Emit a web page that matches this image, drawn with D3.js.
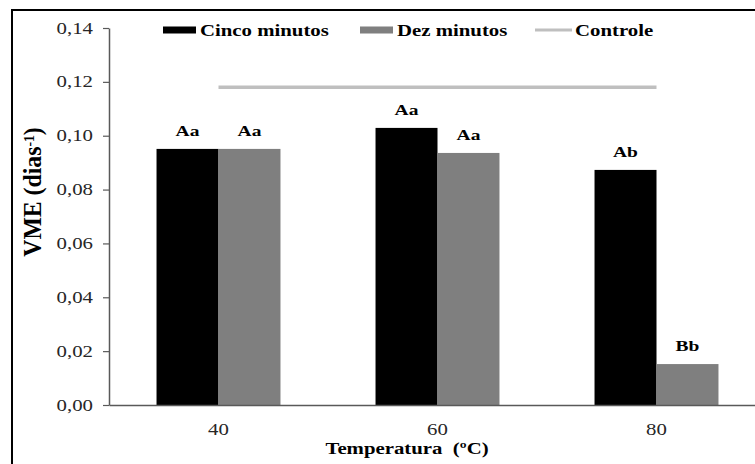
<!DOCTYPE html>
<meta charset="utf-8">
<style>
body { margin: 0; background: #fff; }
text { font-family: "Liberation Serif", "Times New Roman", "DejaVu Serif", serif; fill: #000; }
.tick-label { font-size: 16px; fill: #262626; }
.bold { font-weight: bold; }
</style>
<body>
<svg width="755" height="464"></svg>
<script src="https://d3js.org/d3.v7.min.js"></script>
<script>
// data
var temps = ["40", "60", "80"];
var series = ["Cinco minutos", "Dez minutos"];
var cinco = [0.0951, 0.1029, 0.0873];
var dez = [0.0951, 0.0936, 0.0152];
var controle = 0.118;
var letrasCinco = ["Aa", "Aa", "Ab"];
var letrasDez = ["Aa", "Aa", "Bb"];
var yTicks = [0, 0.02, 0.04, 0.06, 0.08, 0.10, 0.12, 0.14];

var colors = {"Cinco minutos": "#000000", "Dez minutos": "#7f7f7f", "Controle": "#bfbfbf"};
var K = 1.3; // text in the source is stretched sideways

var svg = d3.select("svg");

// outer frame (clipped by the picture at right/bottom)
svg.append("rect")
    .attr("x", 12).attr("y", 10)
    .attr("width", 800).attr("height", 500)
    .attr("fill", "none").attr("stroke", "#000").attr("stroke-width", 2);

var x0 = d3.scaleBand().domain(temps).range([109, 766])
    .paddingInner(0.434).paddingOuter(0.217);
var x1 = d3.scaleBand().domain(series).range([0, x0.bandwidth()]);
var y = d3.scaleLinear().domain([0, 0.14]).range([405, 28]);

function stretched(parent, px, py, str, cls, anchor) {
  return parent.append("text")
      .attr("class", cls)
      .attr("text-anchor", anchor || "middle")
      .attr("transform", "translate(" + px + "," + py + ") scale(" + K + ",1)")
      .text(str);
}

// bars
var rows = temps.map(function(t, i) {
  return [
    {t: t, s: series[0], v: cinco[i], l: letrasCinco[i]},
    {t: t, s: series[1], v: dez[i], l: letrasDez[i]}
  ];
});
var flat = [].concat.apply([], rows);

svg.selectAll(".bar").data(flat).enter().append("rect")
    .attr("class", "bar")
    .attr("x", function(d) { return x0(d.t) + x1(d.s); })
    .attr("width", x1.bandwidth())
    .attr("y", function(d) { return y(d.v); })
    .attr("height", function(d) { return y(0) - y(d.v); })
    .attr("fill", function(d) { return colors[d.s]; });

flat.forEach(function(d) {
  stretched(svg, x0(d.t) + x1(d.s) + x1.bandwidth() / 2, y(d.v) - 13, d.l, "bold")
      .style("font-size", "15px");
});

// control line
svg.append("line")
    .attr("x1", x0(temps[0]) + x0.bandwidth() / 2)
    .attr("x2", x0(temps[temps.length - 1]) + x0.bandwidth() / 2)
    .attr("y1", y(controle)).attr("y2", y(controle))
    .attr("stroke", colors["Controle"]).attr("stroke-width", 3.5);

// y axis
var yAxis = svg.append("g")
    .attr("transform", "translate(109,0)")
    .call(d3.axisLeft(y).tickValues(yTicks).tickSize(6).tickSizeOuter(0)
      .tickFormat(function(d) { return d3.format(".2f")(d).replace(".", ","); }));
yAxis.attr("font-family", null).attr("font-size", null);
yAxis.select(".domain").attr("stroke", "#595959").attr("stroke-width", 1.5);
yAxis.selectAll(".tick line").attr("stroke", "#595959").attr("stroke-width", 1.2);
yAxis.selectAll(".tick text")
    .attr("class", "tick-label")
    .attr("x", null)
    .attr("transform", "translate(-16,0) scale(" + K + ",1)");

// x axis
var xAxis = svg.append("g")
    .attr("transform", "translate(0,405)")
    .call(d3.axisBottom(x0).tickSize(0).tickSizeOuter(0));
xAxis.attr("font-family", null).attr("font-size", null);
xAxis.select(".domain").attr("stroke", "#595959").attr("stroke-width", 1.5);
xAxis.selectAll(".tick text")
    .attr("class", "tick-label")
    .attr("y", null).attr("dy", null)
    .attr("transform", "translate(0,30) scale(" + K + ",1)");

// axis titles
stretched(svg, 407, 454, "Temperatura\u00a0 (\u00baC)", "bold").style("font-size", "16px");

var yt = svg.append("text")
    .attr("class", "bold")
    .attr("text-anchor", "middle")
    .attr("transform", "translate(41,192) rotate(-90) scale(1.25,1.3)")
    .style("font-size", "19px");
yt.append("tspan").text("VME (dias");
yt.append("tspan").attr("baseline-shift", "super").style("font-size", "11px").text("-1");
yt.append("tspan").text(")");

// legend
var legendX = [163, 360, 535];
var legendItems = series.concat(["Controle"]);
legendItems.forEach(function(name, i) {
  var lx = legendX[i];
  if (name === "Controle") {
    svg.append("line")
        .attr("x1", lx).attr("x2", lx + 37)
        .attr("y1", 30).attr("y2", 30)
        .attr("stroke", colors[name]).attr("stroke-width", 3);
  } else {
    svg.append("rect")
        .attr("x", lx).attr("y", 26.5)
        .attr("width", 33).attr("height", 7)
        .attr("fill", colors[name]);
  }
  stretched(svg, lx + (name === "Controle" ? 40 : 37), 36, name, "bold", "start")
      .style("font-size", "16px");
});
</script>
</body>
